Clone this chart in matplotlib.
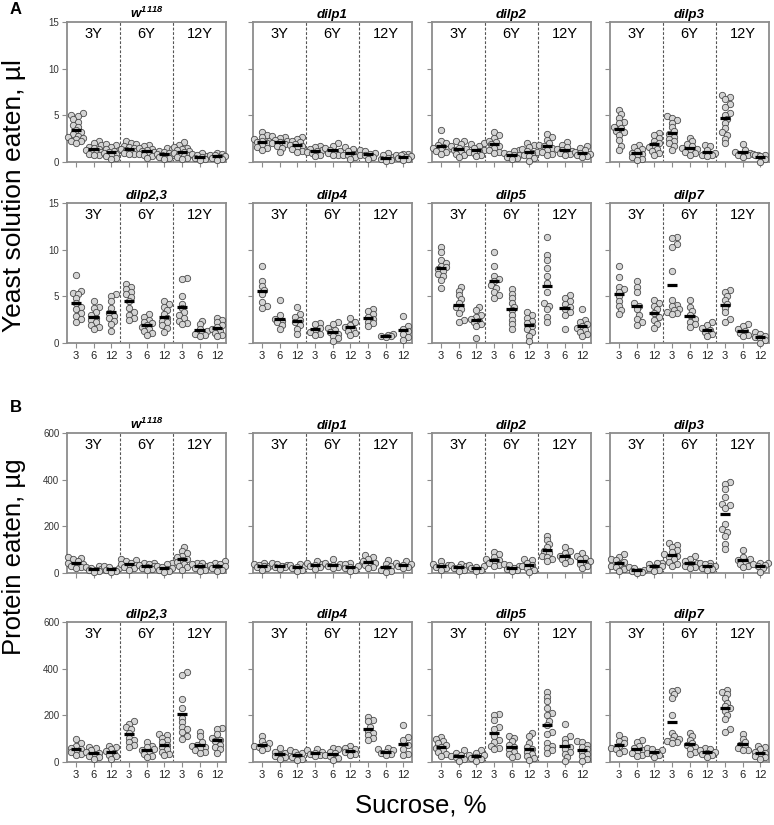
import numpy as np
import matplotlib
matplotlib.use("Agg")
import matplotlib.pyplot as plt

plt.rcParams['font.family'] = ['Liberation Sans', 'DejaVu Sans']
plt.rcParams['mathtext.fontset'] = 'custom'
plt.rcParams['mathtext.it'] = 'Liberation Sans:bold:italic'
plt.rcParams['mathtext.rm'] = 'Liberation Sans:bold:italic'
plt.rcParams['mathtext.bf'] = 'Liberation Sans:bold:italic'

# ---------------- data ----------------
genotypes = [r'$w^{1118}$', 'dilp1', 'dilp2', 'dilp3', 'dilp2,3', 'dilp4', 'dilp5', 'dilp7']
age_groups = ['3Y', '6Y', '12Y']
sucrose_labels = ['3', '6', '12']

# Yeast solution eaten (µl); each panel: 9 columns (3Y:3,6,12 | 6Y:3,6,12 | 12Y:3,6,12)
yeast_w1118 = [
    [5.2, 5.0, 4.9, 4.6, 4.3, 4.0, 3.8, 3.4, 3.2, 3.0, 2.8, 2.7, 2.6, 2.5, 2.3, 2.2, 2.0],
    [2.2, 2.0, 1.8, 1.6, 1.5, 1.4, 1.3, 1.2, 1.1, 1.0, 0.9, 0.8, 0.7],
    [1.9, 1.8, 1.6, 1.4, 1.3, 1.2, 1.1, 1.0, 0.9, 0.8, 0.6, 0.4, 0.3],
    [2.2, 2.0, 1.9, 1.7, 1.6, 1.5, 1.4, 1.3, 1.2, 1.1, 1.0, 0.9, 0.9],
    [1.8, 1.7, 1.5, 1.4, 1.3, 1.2, 1.1, 1.0, 0.9, 0.8, 0.6, 0.4],
    [1.5, 1.4, 1.2, 1.1, 1.0, 0.9, 0.8, 0.7, 0.6, 0.5, 0.4, 0.3],
    [2.1, 1.8, 1.6, 1.5, 1.4, 1.3, 1.2, 1.1, 1.0, 0.9, 0.8, 0.6, 0.5, 0.4, 0.3],
    [1.0, 0.9, 0.8, 0.6, 0.5, 0.4, 0.3, 0.2],
    [1.0, 0.9, 0.8, 0.7, 0.6, 0.5, 0.4, 0.3, 0.2],
]
yeast_dilp1 = [
    [3.2, 2.9, 2.7, 2.5, 2.3, 2.2, 2.1, 2.0, 1.8, 1.6, 1.5, 1.3],
    [2.8, 2.7, 2.6, 2.4, 2.3, 2.1, 2.0, 1.9, 1.7, 1.5, 1.1],
    [2.7, 2.5, 2.3, 2.1, 1.9, 1.8, 1.7, 1.6, 1.4, 1.2, 1.1],
    [1.7, 1.6, 1.4, 1.3, 1.2, 1.1, 1.0, 0.8, 0.6],
    [2.0, 1.7, 1.5, 1.3, 1.2, 1.1, 1.0, 0.8, 0.7],
    [1.6, 1.4, 1.2, 1.0, 0.9, 0.8, 0.7, 0.5, 0.3],
    [1.3, 1.2, 1.0, 0.9, 0.8, 0.7, 0.5, 0.3],
    [1.0, 0.7, 0.5, 0.4, 0.3, 0.2, 0.1],
    [0.9, 0.9, 0.8, 0.7, 0.6, 0.5, 0.4, 0.3, 0.2],
]
yeast_dilp2 = [
    [3.4, 2.2, 2.0, 1.8, 1.6, 1.5, 1.4, 1.3, 1.2, 1.1, 0.9],
    [2.3, 2.2, 1.9, 1.7, 1.5, 1.4, 1.3, 1.1, 0.9, 0.7, 0.5],
    [2.0, 1.9, 1.7, 1.5, 1.3, 1.2, 1.1, 1.0, 0.8, 0.6],
    [3.2, 2.9, 2.6, 2.3, 2.1, 1.9, 1.7, 1.5, 1.3, 1.1, 1.0],
    [1.3, 1.2, 1.0, 0.9, 0.8, 0.7, 0.5, 0.4, 0.3],
    [2.0, 1.8, 1.6, 1.4, 1.2, 1.1, 1.0, 0.8, 0.6, 0.4, 0.1],
    [3.0, 2.7, 2.4, 2.0, 1.8, 1.7, 1.5, 1.3, 1.1, 0.9, 0.8],
    [2.1, 1.8, 1.6, 1.4, 1.3, 1.2, 1.1, 1.0, 0.9, 0.8],
    [1.7, 1.5, 1.3, 1.1, 1.0, 0.9, 0.8, 0.7, 0.6, 0.5],
]
yeast_dilp3 = [
    [5.6, 5.1, 4.7, 4.3, 4.2, 3.7, 3.6, 3.3, 3.2, 2.9, 2.4, 1.7, 1.25],
    [1.8, 1.6, 1.4, 1.2, 1.0, 0.9, 0.7, 0.5, 0.3, 0.2],
    [3.1, 2.9, 2.6, 2.3, 2.0, 1.8, 1.6, 1.4, 1.2, 1.0, 0.8],
    [4.9, 4.7, 4.5, 4.2, 3.7, 3.3, 3.0, 2.7, 2.5, 2.2, 2.0, 1.7, 1.3],
    [2.6, 2.2, 1.9, 1.7, 1.5, 1.4, 1.3, 1.1, 1.0, 0.8],
    [1.8, 1.7, 1.3, 1.0, 0.9, 0.8, 0.7, 0.6],
    [7.2, 7.0, 6.8, 6.2, 5.9, 5.3, 5.0, 4.6, 4.2, 3.6, 3.2, 2.9, 2.5, 2.0],
    [1.9, 1.3, 1.1, 1.0, 0.9, 0.8, 0.7, 0.5],
    [0.9, 0.8, 0.8, 0.7, 0.6, 0.3, 0.0],
]
yeast_dilp23 = [
    [7.3, 5.6, 5.4, 5.2, 4.8, 4.3, 3.9, 3.6, 3.2, 2.9, 2.6, 2.3],
    [4.5, 3.9, 3.7, 3.3, 3.0, 2.7, 2.5, 2.2, 1.9, 1.7, 1.5],
    [5.2, 5.0, 4.5, 3.7, 3.2, 2.9, 2.7, 2.4, 2.0, 1.3],
    [6.3, 6.0, 5.8, 5.5, 5.2, 4.9, 4.5, 3.8, 3.3, 3.0, 2.7, 2.5],
    [3.1, 2.8, 2.5, 2.3, 2.1, 1.9, 1.7, 1.5, 1.3, 1.1, 0.9],
    [4.5, 4.2, 3.9, 3.5, 3.1, 2.7, 2.4, 2.2, 1.9, 1.6, 1.2],
    [7.0, 6.9, 5.0, 4.2, 3.7, 3.3, 3.0, 2.7, 2.4, 2.1, 2.0],
    [2.4, 2.0, 1.5, 1.3, 1.1, 1.0, 0.9, 0.8],
    [2.7, 2.5, 2.2, 1.9, 1.7, 1.5, 1.3, 1.1, 0.9, 0.7],
]
yeast_dilp4 = [
    [8.3, 6.6, 6.1, 5.7, 5.3, 4.4, 4.0, 3.8],
    [4.6, 3.0, 2.6, 2.4, 2.2, 1.9, 1.5],
    [3.9, 3.1, 2.8, 2.5, 2.2, 1.9, 1.5, 1.0],
    [2.1, 2.0, 1.6, 1.4, 1.2, 1.0, 0.9],
    [2.3, 2.0, 1.6, 1.4, 1.2, 1.0, 0.8, 0.5, 0.2],
    [2.7, 2.2, 1.9, 1.7, 1.5, 1.3, 1.1, 0.9],
    [3.6, 3.4, 3.1, 2.8, 2.6, 2.3, 2.1, 1.8],
    [1.0, 0.9, 0.8, 0.7, 0.6],
    [2.9, 1.8, 1.5, 1.3, 1.0, 0.6, 0.3],
]
yeast_dilp5 = [
    [10.3, 9.75, 8.9, 8.6, 8.3, 8.1, 7.9, 7.7, 7.4, 7.2, 6.8, 5.9],
    [6.0, 5.6, 5.1, 4.7, 4.3, 3.9, 3.6, 3.2, 2.5, 2.2],
    [3.9, 3.5, 3.0, 2.8, 2.6, 2.4, 2.2, 2.0, 1.8, 0.5],
    [9.8, 8.3, 7.2, 6.9, 6.6, 6.2, 5.9, 5.5, 5.1, 4.8],
    [5.8, 5.3, 4.8, 4.3, 3.9, 3.5, 3.0, 2.5, 2.0, 1.5],
    [3.3, 3.0, 2.7, 2.4, 2.1, 1.8, 1.5, 1.2, 0.8, 0.2],
    [11.4, 9.4, 8.9, 8.0, 7.2, 6.4, 5.5, 4.3, 4.0, 3.6, 2.8, 2.3],
    [5.1, 4.8, 4.5, 4.2, 3.9, 3.6, 3.3, 3.0, 1.5],
    [3.6, 2.5, 2.2, 2.0, 1.8, 1.6, 1.4, 1.2, 1.0, 0.8],
]
yeast_dilp7 = [
    [8.2, 7.1, 6.0, 5.8, 5.5, 5.0, 4.5, 4.0, 3.5, 3.1],
    [6.6, 6.0, 5.5, 4.3, 4.0, 3.6, 3.0, 2.6, 2.2, 1.9],
    [4.6, 4.3, 4.0, 3.6, 3.2, 2.8, 2.5, 2.0, 1.6],
    [11.4, 11.3, 10.6, 10.3, 7.7, 4.6, 4.1, 4.0, 3.6, 3.5, 3.3, 3.2, 3.1],
    [4.6, 3.9, 3.4, 3.0, 2.6, 2.3, 2.0, 1.7],
    [2.2, 1.9, 1.6, 1.4, 1.2, 1.0, 0.8],
    [5.7, 5.5, 5.0, 4.6, 4.2, 3.8, 3.3, 2.6, 2.3],
    [2.0, 1.8, 1.5, 1.3, 1.1, 0.9, 0.7],
    [1.2, 1.0, 0.8, 0.6, 0.5, 0.3, 0.0],
]

# Protein eaten (µg)
protein_w1118 = [
    [70, 65, 60, 50, 45, 40, 35, 30, 25, 20],
    [30, 27, 22, 18, 15, 12, 8, 5],
    [28, 25, 20, 15, 12, 8, 5],
    [60, 55, 50, 45, 40, 35, 30, 25, 20, 15],
    [45, 42, 38, 35, 30, 27, 22, 18, 12],
    [42, 38, 32, 27, 22, 18, 14, 10, 5],
    [112, 95, 85, 75, 68, 60, 55, 48, 40, 32, 25, 15],
    [45, 42, 38, 32, 28, 22, 15, 10],
    [50, 45, 40, 35, 30, 25, 20, 15, 10],
]
protein_dilp1 = [
    [45, 40, 35, 32, 28, 25, 20, 15],
    [42, 38, 35, 30, 27, 24, 18],
    [38, 33, 30, 25, 20, 15, 10],
    [50, 45, 40, 35, 30, 25, 18],
    [60, 45, 40, 35, 30, 25, 20],
    [45, 38, 30, 25, 20, 15, 10],
    [78, 70, 60, 50, 45, 40, 35, 25, 20],
    [55, 40, 30, 22, 15, 10, 5],
    [50, 45, 40, 35, 30, 25, 20],
]
protein_dilp2 = [
    [50, 40, 35, 30, 25, 20, 15],
    [38, 33, 28, 25, 20, 15, 10],
    [35, 30, 25, 20, 15, 10],
    [92, 80, 70, 60, 55, 50, 42, 35, 28],
    [38, 33, 28, 22, 18, 12, 10],
    [60, 55, 45, 35, 28, 22, 15, 5],
    [158, 140, 125, 110, 95, 85, 75, 68, 60, 50],
    [110, 95, 85, 75, 68, 60, 52, 45],
    [85, 75, 65, 58, 50, 45, 38, 30, 22],
]
protein_dilp3 = [
    [80, 70, 62, 55, 48, 40, 32, 25, 18, 10],
    [25, 20, 15, 10, 8, 5, 2],
    [45, 42, 38, 30, 25, 20, 15, 10],
    [128, 122, 110, 100, 90, 82, 75, 68, 58, 48, 38, 32],
    [72, 60, 52, 42, 38, 32, 25, 20],
    [45, 42, 38, 32, 28, 22, 18, 15],
    [390, 383, 358, 326, 297, 290, 280, 210, 190, 176, 159, 126, 101],
    [100, 70, 62, 55, 48, 40, 32, 25],
    [45, 42, 38, 35, 30, 20, 5],
]
protein_dilp23 = [
    [100, 80, 70, 62, 55, 48, 42, 35, 28],
    [65, 58, 50, 42, 38, 32, 25, 20, 15],
    [70, 65, 55, 48, 40, 32, 25, 15],
    [175, 165, 150, 140, 125, 105, 95, 85, 75, 65],
    [85, 70, 65, 55, 50, 42, 35, 25, 20],
    [120, 115, 105, 95, 85, 75, 65, 55, 45, 35, 30],
    [385, 375, 270, 230, 190, 170, 150, 140, 130, 110, 100],
    [130, 110, 85, 75, 70, 65, 60, 52, 45, 40],
    [145, 140, 120, 105, 95, 88, 75, 65, 55, 40],
]
protein_dilp4 = [
    [110, 90, 80, 75, 70, 65, 58, 50],
    [62, 45, 38, 32, 25, 20, 12],
    [50, 45, 38, 30, 22, 15, 10],
    [55, 50, 45, 40, 35, 30, 25],
    [60, 55, 45, 38, 30, 25, 18, 10],
    [70, 62, 55, 48, 42, 35, 28],
    [195, 180, 175, 150, 135, 125, 115, 105, 95],
    [60, 55, 50, 45, 40, 35, 30],
    [157, 107, 96, 71, 57, 36, 29],
]
protein_dilp5 = [
    [108, 100, 90, 82, 72, 65, 58, 50, 42, 35, 25],
    [50, 40, 32, 25, 20, 15, 5],
    [50, 40, 32, 28, 22, 18, 12, 5],
    [205, 200, 180, 150, 140, 110, 95, 85, 70, 60, 55],
    [110, 105, 90, 75, 65, 55, 45, 35, 25, 20],
    [125, 110, 80, 65, 55, 45, 35, 25, 18, 10],
    [300, 280, 260, 230, 210, 200, 175, 160, 130, 120, 80, 70, 60, 50, 40],
    [165, 110, 100, 80, 65, 55, 45, 35, 20, 5],
    [90, 85, 75, 65, 55, 45, 35, 25, 15, 5],
]
protein_dilp7 = [
    [115, 100, 90, 80, 70, 62, 55, 48, 40],
    [95, 85, 70, 60, 50, 45, 38, 30, 25],
    [60, 55, 50, 45, 40, 35, 28, 20],
    [310, 305, 290, 275, 200, 125, 110, 100, 95, 90, 85, 80],
    [125, 110, 95, 80, 72, 65, 55, 45, 35],
    [60, 55, 50, 45, 40, 35, 28, 22],
    [310, 300, 290, 275, 255, 240, 230, 220, 200, 185, 140, 130],
    [120, 100, 85, 75, 65, 58, 52, 50],
    [70, 65, 55, 45, 38, 32, 25, 20, 15],
]

yeast_panels = [yeast_w1118, yeast_dilp1, yeast_dilp2, yeast_dilp3,
                yeast_dilp23, yeast_dilp4, yeast_dilp5, yeast_dilp7]
protein_panels = [protein_w1118, protein_dilp1, protein_dilp2, protein_dilp3,
                  protein_dilp23, protein_dilp4, protein_dilp5, protein_dilp7]

# ---------------- layout ----------------
W, H = 774, 825
fig = plt.figure(figsize=(W / 100, H / 100), dpi=100)

lefts = [67, 253, 432, 610]
tops = [22, 203, 433, 622]
AW, AH = 159, 140
SPINE = '#8c8c8c'


def swarm(vals, px_y, px_x, sep=4.2, maxoff=7.5):
    """Deterministic beeswarm offsets (in data x units), limited spread."""
    vals = np.asarray(vals, float)
    order = np.argsort(vals)
    placed = []
    offs = np.zeros(len(vals))
    step = 2.5
    cands = [0.0]
    k = 1
    while k * step <= maxoff + 1e-9:
        cands += [k * step, -k * step]
        k += 1
    for i in order:
        y = vals[i] * px_y
        best, bestd = 0.0, -1
        chosen = None
        for c in cands:
            d = min([np.hypot(px - c, py - y) for (px, py) in placed] + [1e9])
            if d >= sep:
                chosen = c
                break
            if d > bestd:
                best, bestd = c, d
        if chosen is None:
            chosen = best
        offs[i] = chosen
        placed.append((chosen, y))
    return offs / px_x


def draw_panel(ax, data, ymax, yticks, title, show_ylab, show_xlab):
    px_x = AW / 9.0
    px_y = AH / ymax
    for j, col in enumerate(data):
        x0 = j + 1
        offs = swarm(col, px_y, px_x)
        ax.scatter(x0 + offs, col, s=21, facecolor='#d4d4d4', edgecolor='#4a4a4a',
                   linewidth=0.6, zorder=3, clip_on=False)
        m = np.mean(col)
        ax.plot([x0 - 0.3, x0 + 0.3], [m, m], color='black', lw=2.3, zorder=4,
                solid_capstyle='butt')
    for xs in (3.5, 6.5):
        ax.axvline(xs, color='#555555', lw=0.8, dashes=(2.5, 1.6), zorder=1)
    for g, lab in enumerate(age_groups):
        ax.text(2 + 3 * g, ymax * 0.915, lab, ha='center', va='center', fontsize=10.5)
    ax.set_xlim(0.5, 9.5)
    ax.set_ylim(0, ymax)
    ax.set_yticks(yticks)
    ax.set_xticks(range(1, 10))
    if show_ylab:
        ax.set_yticklabels([str(t) for t in yticks], fontsize=7, color='#333333')
    else:
        ax.set_yticklabels([])
    if show_xlab:
        ax.set_xticklabels(sucrose_labels * 3, fontsize=8, color='#222222')
    else:
        ax.set_xticklabels([])
    ax.tick_params(axis='both', length=3.5, width=0.8, color=SPINE, pad=2)
    for sp in ax.spines.values():
        sp.set_color(SPINE)
        sp.set_linewidth(1.3)
    ax.set_title(title, fontsize=9.5, fontweight='bold', fontstyle='italic', pad=3)


for block, (panels, ymax, yticks) in enumerate([
        (yeast_panels, 15, [0, 5, 10, 15]),
        (protein_panels, 600, [0, 200, 400, 600])]):
    for p, data in enumerate(panels):
        r = block * 2 + p // 4
        c = p % 4
        ax = fig.add_axes([lefts[c] / W, 1 - (tops[r] + AH) / H, AW / W, AH / H])
        draw_panel(ax, data, ymax, yticks, genotypes[p], c == 0, (p // 4) == 1)

fig.text(10 / W, 1 - 10 / H, 'A', fontsize=12, fontweight='bold', ha='left', va='center')
fig.text(10 / W, 1 - 407 / H, 'B', fontsize=12, fontweight='bold', ha='left', va='center')
fig.text(14 / W, 1 - 196 / H, 'Yeast solution eaten, µl', rotation=90, fontsize=19,
         ha='center', va='center')
fig.text(14 / W, 1 - 557 / H, 'Protein eaten, µg', rotation=90, fontsize=18.5,
         ha='center', va='center')
fig.text(421 / W, 1 - 806 / H, 'Sucrose, %', fontsize=18.5, ha='center', va='center')

fig.savefig('out.png', dpi=100)
